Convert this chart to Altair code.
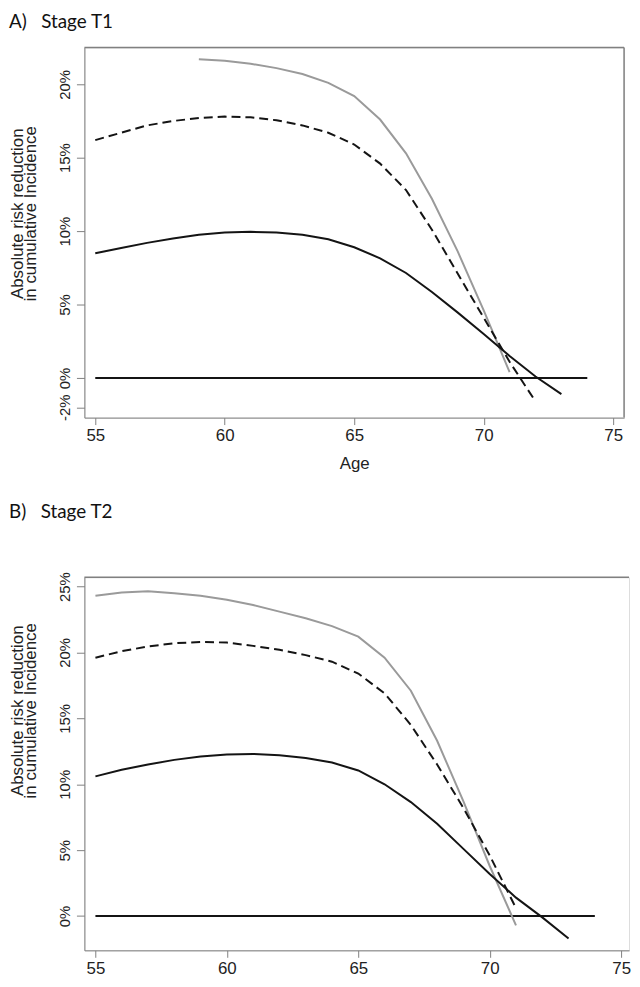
import altair as alt
import pandas as pd

# ---------------- data ----------------
X_TICKS = [55, 60, 65, 70, 75]

# Panel A: Stage T1
A_GRAY_AGE = list(range(59, 72))
A_GRAY = [21.7, 21.6, 21.4, 21.1, 20.7, 20.1, 19.2, 17.6, 15.3, 12.2, 8.6, 4.6, 0.4]
A_DASH_AGE = list(range(55, 73))
A_DASH = [16.2, 16.7, 17.2, 17.5, 17.7, 17.8, 17.75, 17.55, 17.2, 16.7, 15.9, 14.6,
          12.8, 10.1, 7.1, 4.1, 1.1, -1.6]
A_SOLID_AGE = list(range(55, 74))
A_SOLID = [8.5, 8.85, 9.2, 9.5, 9.75, 9.9, 9.95, 9.9, 9.75, 9.45, 8.9, 8.15, 7.15,
           5.85, 4.45, 3.0, 1.5, 0.1, -1.1]
A_Y_TICKS = [-2, 0, 5, 10, 15, 20]

# Panel B: Stage T2
B_GRAY_AGE = list(range(55, 72))
B_GRAY = [24.3, 24.55, 24.65, 24.5, 24.3, 24.0, 23.6, 23.1, 22.6, 22.0, 21.2, 19.6,
          17.1, 13.3, 8.7, 3.8, -0.7]
B_DASH_AGE = list(range(55, 72))
B_DASH = [19.6, 20.1, 20.45, 20.7, 20.8, 20.75, 20.5, 20.2, 19.8, 19.3, 18.4, 16.9,
          14.5, 11.5, 8.2, 4.6, 0.6]
B_SOLID_AGE = list(range(55, 74))
B_SOLID = [10.6, 11.1, 11.5, 11.85, 12.1, 12.25, 12.3, 12.2, 12.0, 11.65, 11.05, 10.0,
           8.65, 7.0, 5.1, 3.2, 1.4, -0.1, -1.7]
B_Y_TICKS = [0, 5, 10, 15, 20, 25]

ZERO_AGE = [55, 74]
ZERO_VAL = [0, 0]

FRAME = "#808080"
GRAY_LINE = "#9a9a9a"
BLACK = "#141414"
LABEL = "#222222"
SANS = "Liberation Sans"


def build_df(gray_age, gray, dash_age, dash, solid_age, solid):
    rows = []
    for a, v in zip(gray_age, gray):
        rows.append({"age": a, "val": v, "s": "gray"})
    for a, v in zip(dash_age, dash):
        rows.append({"age": a, "val": v, "s": "dash"})
    for a, v in zip(solid_age, solid):
        rows.append({"age": a, "val": v, "s": "solid"})
    for a, v in zip(ZERO_AGE, ZERO_VAL):
        rows.append({"age": a, "val": v, "s": "zero"})
    return pd.DataFrame(rows)


def panel(df, xdom, ydom, yticks, w, h, title, title_offset, xtitle, right_border,
          ytitle_y):
    x_axis = alt.Axis(values=X_TICKS, grid=False, domainColor=FRAME, tickColor=FRAME,
                      tickSize=7, labelFont=SANS, labelFontSize=17,
                      labelColor=LABEL, labelPadding=3, labelFlush=False,
                      titleFont=SANS, titleFontSize=17,
                      titleFontWeight="normal", titleColor=LABEL, titlePadding=12)
    y_axis = alt.Axis(values=yticks, grid=False, domainColor=FRAME, tickColor=FRAME,
                      tickSize=8, labelExpr="datum.value + '%'", labelAngle=270,
                      labelAlign="center", labelBaseline="bottom",
                      labelFont=SANS, labelFontSize=15, labelColor=LABEL,
                      labelPadding=4, labelFlush=False, labelOverlap=False,
                      titleFont=SANS, titleFontSize=17,
                      titleFontWeight="normal", titleColor=LABEL,
                      titleLineHeight=13, titleX=-58, titleY=ytitle_y,
                      titleAngle=270, titleAlign="center", titleBaseline="bottom")
    x_enc = alt.X("age:Q", scale=alt.Scale(domain=xdom, nice=False, zero=False),
                  axis=x_axis, title=xtitle)
    y_enc = alt.Y("val:Q", scale=alt.Scale(domain=ydom, nice=False, zero=False),
                  axis=y_axis,
                  title=["Absolute risk reduction", "in cumulative Incidence"])
    base = alt.Chart(df).encode(x=x_enc, y=y_enc)
    zero = base.transform_filter(alt.datum.s == "zero").mark_line(
        color=BLACK, strokeWidth=2)
    gray = base.transform_filter(alt.datum.s == "gray").mark_line(
        color=GRAY_LINE, strokeWidth=2)
    dash = base.transform_filter(alt.datum.s == "dash").mark_line(
        color=BLACK, strokeWidth=2, strokeDash=[9, 5])
    solid = base.transform_filter(alt.datum.s == "solid").mark_line(
        color=BLACK, strokeWidth=2)
    one = pd.DataFrame({"k": [0]})
    top_rule = alt.Chart(one).mark_rule(color=FRAME, strokeWidth=1.5).encode(
        x=alt.value(0), x2=alt.value(w), y=alt.value(0))
    layers = [zero, gray, dash, solid, top_rule]
    if right_border:
        right_rule = alt.Chart(one).mark_rule(color=FRAME, strokeWidth=1.5).encode(
            x=alt.value(w), y=alt.value(0), y2=alt.value(h))
        layers.append(right_rule)
    return alt.layer(*layers).properties(
        width=w, height=h,
        title=alt.TitleParams(text=title, anchor="start", frame="bounds", font="Lato",
                              fontSize=19, fontWeight="normal", color="#111111",
                              offset=title_offset),
    )


df_a = build_df(A_GRAY_AGE, A_GRAY, A_DASH_AGE, A_DASH, A_SOLID_AGE, A_SOLID)
df_b = build_df(B_GRAY_AGE, B_GRAY, B_DASH_AGE, B_DASH, B_SOLID_AGE, B_SOLID)

pa = panel(df_a, [54.58, 75.42], [-2.7, 22.5], A_Y_TICKS, 544, 373,
           "A)\u00a0\u00a0\u00a0Stage T1", 15, "Age", True, 167)
pb = panel(df_b, [54.58, 75.3], [-2.6, 25.7], B_Y_TICKS, 549, 376,
           "B)\u00a0\u00a0\u00a0Stage T2", 50, None, False, 134)

chart = alt.vconcat(pa, pb, spacing=30).properties(
    padding={"left": 0, "top": 0, "right": 0, "bottom": 0}
).configure_view(stroke=None).configure(background="white").configure_axis(
    labelFont=SANS, titleFont=SANS)

chart.save("out.html", embed_options={"renderer": "svg", "actions": False})
